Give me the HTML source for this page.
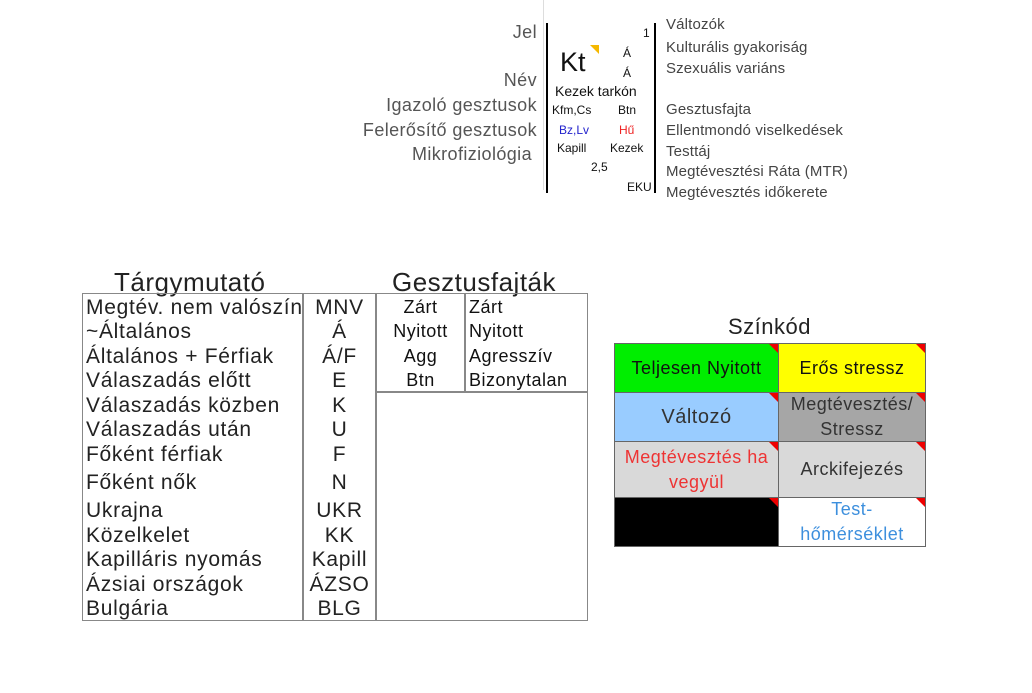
<!DOCTYPE html>
<html><head><meta charset="utf-8">
<style>
*{margin:0;padding:0;box-sizing:border-box}
body{width:1032px;height:693px;background:#fff;position:relative;overflow:hidden;font-family:"Liberation Sans",sans-serif;color:#111}
.a{position:absolute;white-space:nowrap;line-height:1}
.lab{color:#555;font-size:18px;letter-spacing:.4px;text-align:right;right:495px}
.rl{color:#444;font-size:15px;letter-spacing:.15px;left:666px}
.s{font-size:12px;color:#111}
.t{font-size:21px;letter-spacing:.7px;color:#222}
.g{font-size:18px;letter-spacing:.5px}
.c{text-align:center}
.cell{position:absolute;border:1px solid #666;display:flex;align-items:center;justify-content:center;text-align:center;font-size:18px;letter-spacing:.5px;line-height:25px;overflow:hidden}
.cell::after{content:"";position:absolute;right:0;top:0;border-top:9px solid #e00;border-left:9px solid transparent}
</style></head><body>
<!-- top legend -->
<div class="a lab" style="top:23px">Jel</div>
<div class="a lab" style="top:71px">Név</div>
<div class="a lab" style="top:96px">Igazoló gesztusok</div>
<div class="a lab" style="top:121px">Felerősítő gesztusok</div>
<div class="a lab" style="top:145px;right:500px">Mikrofiziológia</div>
<div class="a" style="left:543px;top:0;width:1px;height:190px;background:#ddd"></div>
<div class="a" style="left:546px;top:23px;width:1.5px;height:170px;background:#000"></div>
<div class="a" style="left:654px;top:23px;width:1.5px;height:170px;background:#000"></div>
<div class="a" style="left:560px;top:49px;font-size:27px">Kt</div>
<div class="a" style="left:590px;top:45px;border-top:9px solid #f5b800;border-left:9px solid transparent"></div>
<div class="a s" style="left:643px;top:27px">1</div>
<div class="a s" style="left:623px;top:47px">Á</div>
<div class="a s" style="left:623px;top:67px">Á</div>
<div class="a" style="left:555px;top:84px;font-size:14px">Kezek tarkón</div>
<div class="a s" style="left:552px;top:104px">Kfm,Cs</div>
<div class="a s" style="left:618px;top:104px">Btn</div>
<div class="a s" style="left:559px;top:124px;color:#2222cc">Bz,Lv</div>
<div class="a s" style="left:619px;top:124px;color:#e22">Hű</div>
<div class="a s" style="left:557px;top:142px">Kapill</div>
<div class="a s" style="left:610px;top:142px">Kezek</div>
<div class="a s" style="left:591px;top:161px">2,5</div>
<div class="a s" style="left:627px;top:181px">EKU</div>
<div class="a rl" style="top:17px">Változók</div>
<div class="a rl" style="top:40px">Kulturális gyakoriság</div>
<div class="a rl" style="top:61px">Szexuális variáns</div>
<div class="a rl" style="top:102px">Gesztusfajta</div>
<div class="a rl" style="top:123px">Ellentmondó viselkedések</div>
<div class="a rl" style="top:144px">Testtáj</div>
<div class="a rl" style="top:164px">Megtévesztési Ráta (MTR)</div>
<div class="a rl" style="top:185px">Megtévesztés időkerete</div>

<!-- index table -->
<div class="a" style="left:114px;top:269px;font-size:26px;letter-spacing:.5px;color:#222">Tárgymutató</div>
<div class="a" style="left:392px;top:269px;font-size:26px;letter-spacing:.5px;color:#222">Gesztusfajták</div>
<div class="a" style="left:82px;top:293px;width:506px;height:328px;border:1.5px solid #888"></div>
<div class="a" style="left:302px;top:293px;width:1.5px;height:328px;background:#888"></div>
<div class="a" style="left:375px;top:293px;width:1.5px;height:328px;background:#888"></div>
<div class="a" style="left:464px;top:293px;width:1.5px;height:99px;background:#888"></div>
<div class="a" style="left:375px;top:391px;width:213px;height:1.5px;background:#888"></div>

<div class="a t" style="left:86px;top:297px">Megtév. nem valószín</div>
<div class="a t" style="left:86px;top:321px">~Általános</div>
<div class="a t" style="left:86px;top:346px">Általános + Férfiak</div>
<div class="a t" style="left:86px;top:370px">Válaszadás előtt</div>
<div class="a t" style="left:86px;top:395px">Válaszadás közben</div>
<div class="a t" style="left:86px;top:419px">Válaszadás után</div>
<div class="a t" style="left:86px;top:444px">Főként férfiak</div>
<div class="a t" style="left:86px;top:472px">Főként nők</div>
<div class="a t" style="left:86px;top:500px">Ukrajna</div>
<div class="a t" style="left:86px;top:525px">Közelkelet</div>
<div class="a t" style="left:86px;top:549px">Kapilláris nyomás</div>
<div class="a t" style="left:86px;top:574px">Ázsiai országok</div>
<div class="a t" style="left:86px;top:598px">Bulgária</div>

<div class="a t c" style="left:303px;width:73px;top:297px">MNV</div>
<div class="a t c" style="left:303px;width:73px;top:321px">Á</div>
<div class="a t c" style="left:303px;width:73px;top:346px">Á/F</div>
<div class="a t c" style="left:303px;width:73px;top:370px">E</div>
<div class="a t c" style="left:303px;width:73px;top:395px">K</div>
<div class="a t c" style="left:303px;width:73px;top:419px">U</div>
<div class="a t c" style="left:303px;width:73px;top:444px">F</div>
<div class="a t c" style="left:303px;width:73px;top:472px">N</div>
<div class="a t c" style="left:303px;width:73px;top:500px">UKR</div>
<div class="a t c" style="left:303px;width:73px;top:525px">KK</div>
<div class="a t c" style="left:303px;width:73px;top:549px">Kapill</div>
<div class="a t c" style="left:303px;width:73px;top:574px">ÁZSO</div>
<div class="a t c" style="left:303px;width:73px;top:598px">BLG</div>

<div class="a c g" style="left:376px;width:89px;top:298px">Zárt</div>
<div class="a c g" style="left:376px;width:89px;top:322px">Nyitott</div>
<div class="a c g" style="left:376px;width:89px;top:347px">Agg</div>
<div class="a c g" style="left:376px;width:89px;top:371px">Btn</div>
<div class="a g" style="left:469px;top:298px">Zárt</div>
<div class="a g" style="left:469px;top:322px">Nyitott</div>
<div class="a g" style="left:469px;top:347px">Agresszív</div>
<div class="a g" style="left:469px;top:371px">Bizonytalan</div>

<!-- color code -->
<div class="a c" style="left:614px;width:311px;top:316px;font-size:22px;letter-spacing:.5px;color:#222">Színkód</div>
<div class="cell" style="left:614px;top:343px;width:165px;height:50px;background:#00ee00">Teljesen Nyitott</div>
<div class="cell" style="left:778px;top:343px;width:148px;height:50px;background:#ffff00">Erős stressz</div>
<div class="cell" style="left:614px;top:392px;width:165px;height:50px;background:#99ccff;font-size:20px;color:#333">Változó</div>
<div class="cell" style="left:778px;top:392px;width:148px;height:50px;background:#a6a6a6;color:#333">Megtévesztés/<br>Stressz</div>
<div class="cell" style="left:614px;top:441px;width:165px;height:57px;background:#d9d9d9;color:#ee3333">Megtévesztés ha<br>vegyül</div>
<div class="cell" style="left:778px;top:441px;width:148px;height:57px;background:#d9d9d9;color:#333">Arckifejezés</div>
<div class="cell" style="left:614px;top:497px;width:165px;height:50px;background:#000"></div>
<div class="cell" style="left:778px;top:497px;width:148px;height:50px;background:#fff;color:#3d8fdd">Test-<br>hőmérséklet</div>
</body></html>
